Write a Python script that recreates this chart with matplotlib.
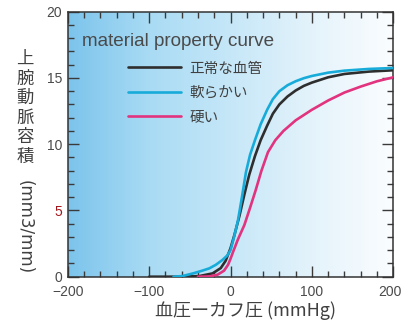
import numpy as np
import matplotlib
matplotlib.use('Agg')
from matplotlib import pyplot as plt
from matplotlib.colors import LinearSegmentedColormap
from matplotlib.ticker import MultipleLocator
from matplotlib.transforms import ScaledTranslation

# blood pressure minus cuff pressure (mmHg) -> brachial artery volume (mm3/mm)
normal_x = [-100, -60, -38, -22, -12, -6, 0, 5, 11, 17, 23, 30, 37, 45, 52, 60, 70, 80, 90, 100, 120, 140, 170, 200]
normal_y = [0, 0, 0.05, 0.25, 0.65, 1.2, 2.15, 3.2, 4.6, 6.2, 7.7, 9.1, 10.3, 11.4, 12.3, 13.0, 13.6, 14.05, 14.4, 14.65, 15.05, 15.3, 15.48, 15.58]

soft_x = [-70, -59, -46, -35, -26, -18, -10, -4, 0, 4, 9, 14, 19, 24, 30, 37, 45, 52, 60, 70, 80, 90, 100, 120, 140, 170, 200]
soft_y = [0, 0.05, 0.25, 0.45, 0.63, 0.9, 1.26, 1.6, 2.0, 2.9, 4.2, 6.0, 7.9, 9.2, 10.3, 11.5, 12.6, 13.4, 14.0, 14.45, 14.75, 14.98, 15.15, 15.4, 15.55, 15.68, 15.75]

hard_x = [-40, -26, -16, -8, -3, 0, 3, 9, 17, 24, 31, 38, 46, 55, 65, 80, 100, 120, 140, 160, 180, 200]
hard_y = [0, 0.02, 0.15, 0.45, 0.9, 1.35, 1.85, 2.8, 3.9, 5.2, 6.55, 8.0, 9.4, 10.3, 11.0, 11.8, 12.6, 13.3, 13.9, 14.35, 14.75, 15.05]

labels = ['正常な血管', '軟らかい', '硬い']
colors = ['#2e2e2e', '#17abd9', '#e2337f']

jp = 'Noto Sans CJK JP'
plt.rcParams['font.family'] = ['Liberation Sans', 'DejaVu Sans']

fig = plt.figure(figsize=(4.04, 3.22), dpi=100)
ax = fig.add_axes([0.1676, 0.1407, 0.806, 0.823])

# horizontal blue -> white shading behind the curves
bg = LinearSegmentedColormap.from_list('bg', ['#7cc4ec', '#a9dbf4', '#c6e7f8', '#e4f3fb', '#fbfdff'])
ax.imshow(np.linspace(0, 1, 256)[None, :], aspect='auto', cmap=bg,
          extent=(-200, 200, 0, 20), zorder=0, interpolation='bilinear')

lines = []
for (x, y), c in zip([(normal_x, normal_y), (soft_x, soft_y), (hard_x, hard_y)], colors):
    ln, = ax.plot(x, y, color=c, lw=1.9, solid_capstyle='round', solid_joinstyle='round', zorder=3)
    lines.append(ln)

ax.set_xlim(-200, 200)
ax.set_ylim(0, 20)
ax.set_xticks([-200, -100, 0, 100, 200])
ax.set_yticks([0, 5, 10, 15, 20])
ax.xaxis.set_minor_locator(MultipleLocator(20))
ax.yaxis.set_minor_locator(MultipleLocator(1))
ax.tick_params(which='both', direction='in', top=True, right=True, color='#3a3a3a', width=1.0)
ax.tick_params(which='major', length=8, labelsize=10, labelcolor='#4a4a4a')
ax.tick_params(which='minor', length=4.5)
ax.tick_params(axis='x', pad=6)
ax.tick_params(axis='y', pad=4)
ax.get_yticklabels()[1].set_color('#a3151a')
last = ax.get_xticklabels()[-1]
last.set_transform(last.get_transform() + ScaledTranslation(-3 / 100, 0, fig.dpi_scale_trans))
for s in ax.spines.values():
    s.set_color('#333333')
    s.set_linewidth(1.1)

ax.text(0.044, 0.887, 'material property curve', transform=ax.transAxes,
        fontsize=13.6, color='#4a4a4a', va='center', ha='left')
ax.legend(lines, labels, loc='upper left', bbox_to_anchor=(0.186, 0.812), frameon=False,
          handlelength=3.6, handletextpad=0.6, labelspacing=0.7, borderpad=0,
          borderaxespad=0, prop={'family': jp, 'size': 10.5}, labelcolor='#404040')

ax.set_xlabel('血圧ーカフ圧 (mmHg)', family=jp, fontsize=13, color='#404040')
ax.xaxis.set_label_coords(0.545, -0.094)

# vertical y label: upright kanji, then the unit turned sideways
for i, ch in enumerate('上腕動脈容積'):
    fig.text(25 / 404, 1 - (59 + 19.6 * i) / 322, ch, family=jp, fontsize=12.5,
             color='#404040', ha='center', va='center')
fig.text(25 / 404, 1 - 227 / 322, '(mm3/mm)', family='DejaVu Sans', fontsize=12,
         color='#404040', rotation=270, ha='center', va='center')

plt.savefig('out.png', dpi=100)
